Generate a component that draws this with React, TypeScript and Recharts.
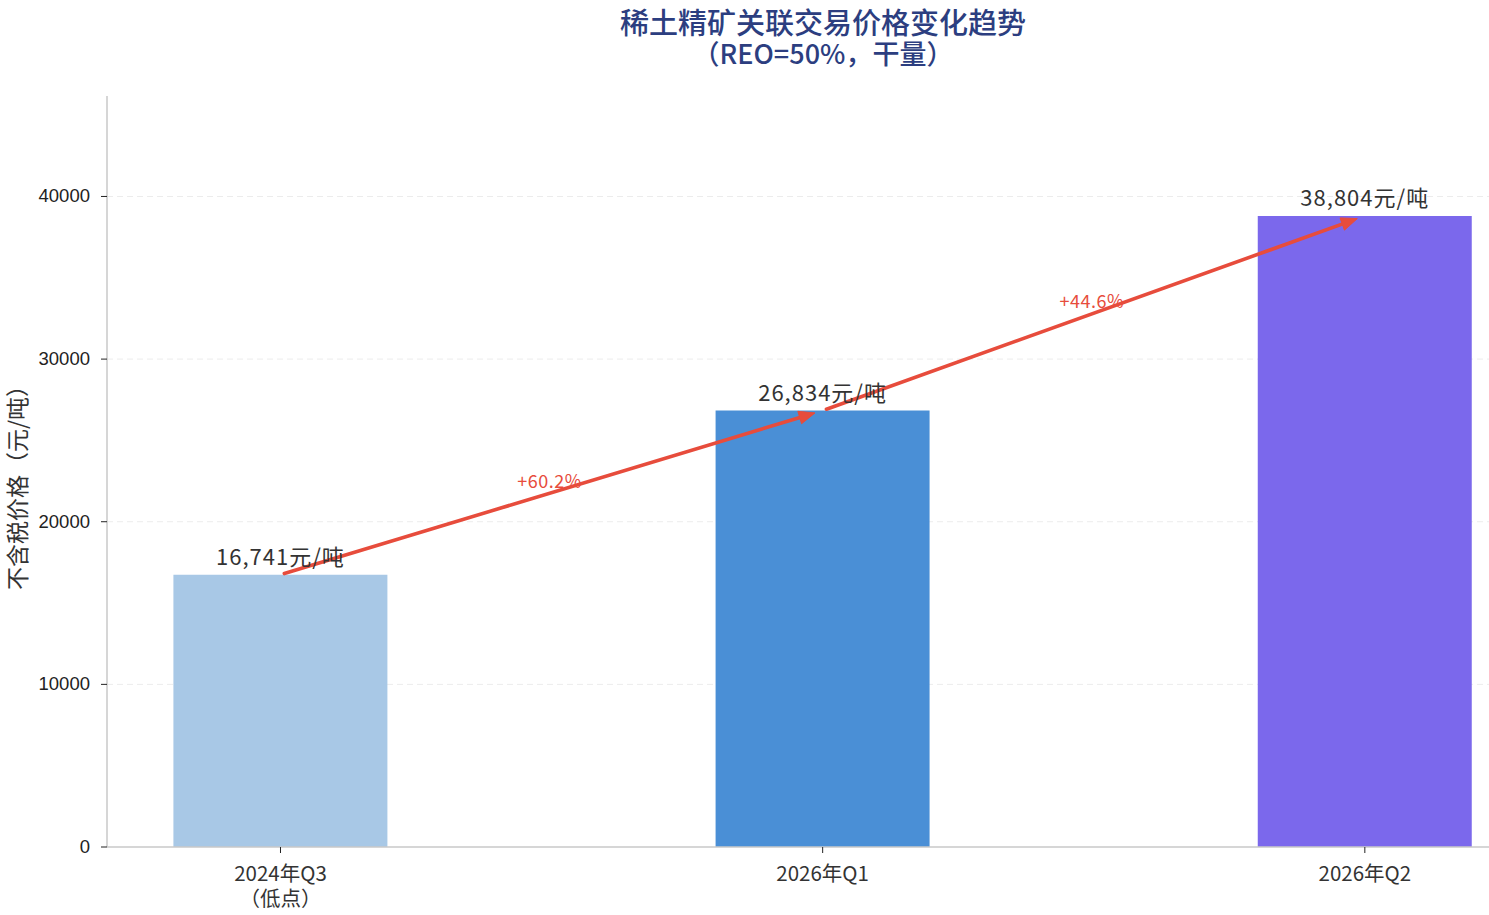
import React from "react";
import {
  ComposedChart,
  Bar,
  XAxis,
  YAxis,
  CartesianGrid,
  Cell,
  LabelList,
  ReferenceLine,
} from "recharts";

const categories = ["2024年Q3\n（低点）", "2026年Q1", "2026年Q2"];
const prices = [16741, 26834, 38804];
const valueLabels = ["16,741元/吨", "26,834元/吨", "38,804元/吨"];
const changeLabels = ["+60.2%", "+44.6%"];
const yTicks = [0, 10000, 20000, 30000, 40000];
const gridValues = [10000, 20000, 30000, 40000];

const barColors = ["#a8c8e6", "#4a8fd6", "#7b68ec"];
const ARROW = "#e74c3c";
const CJK = '"Noto Sans CJK SC", "Noto Sans", sans-serif';

const data = prices.map((v, i) => ({ x: i, value: v, label: valueLabels[i] }));

const XTick = (props: any) => {
  const { x, y, payload } = props;
  const lines = String(categories[payload.value] ?? "").split("\n");
  return (
    <g>
      {lines.map((ln, k) => (
        <text
          key={k}
          x={x}
          y={y + 26 + k * 25}
          textAnchor="middle"
          fontSize={20.5}
          fontFamily={CJK}
          fill="#333"
        >
          {ln}
        </text>
      ))}
    </g>
  );
};

const YTick = (props: any) => {
  const { x, y, payload } = props;
  return (
    <text
      x={x - 9}
      y={y}
      dy={6}
      textAnchor="end"
      fontSize={18.5}
      fontFamily='"Liberation Sans", Arial, sans-serif'
      fill="#222"
    >
      {payload.value}
    </text>
  );
};

const ValueLabel = (props: any) => {
  const { x, y, width, value } = props;
  return (
    <text
      x={x + width / 2}
      y={y - 10}
      textAnchor="middle"
      fontSize={22}
      letterSpacing={1}
      fontFamily={CJK}
      fill="#333"
    >
      {value}
    </text>
  );
};

const makeArrow = (label: string) => (props: any) => {
  const { x1, y1, x2, y2 } = props;
  if ([x1, y1, x2, y2].some((v) => v === undefined || isNaN(v))) return null;
  const dx = x2 - x1;
  const dy = y2 - y1;
  const len = Math.sqrt(dx * dx + dy * dy);
  const ux = dx / len;
  const uy = dy / len;
  const sx = x1 + ux * 4;
  const sy = y1 + uy * 4;
  const tx = x2 - ux * 8;
  const ty = y2 - uy * 8;
  const headL = 16;
  const headW = 6.5;
  const bx = tx - ux * headL;
  const by = ty - uy * headL;
  const px = -uy;
  const py = ux;
  const mx = (x1 + x2) / 2;
  const my = (y1 + y2) / 2;
  return (
    <g>
      <line x1={sx} y1={sy} x2={bx + ux * 2} y2={by + uy * 2} stroke={ARROW} strokeWidth={3.6} strokeLinecap="round" />
      <polygon
        points={`${tx},${ty} ${bx + px * headW},${by + py * headW} ${bx - px * headW},${by - py * headW}`}
        fill={ARROW}
        stroke={ARROW}
        strokeWidth={1}
        strokeLinejoin="round"
      />
      <text
        x={mx - 2}
        y={my - 5}
        textAnchor="middle"
        fontSize={18}
        letterSpacing={0.5}
        fontFamily={CJK}
        fill={ARROW}
      >
        {label}
      </text>
    </g>
  );
};

export default function App() {
  return (
    <div
      style={{
        position: "absolute",
        left: 0,
        top: 0,
        width: 1489,
        height: 915,
        background: "#fff",
        overflow: "hidden",
      }}
    >
      <div
        style={{
          position: "absolute",
          left: 0,
          top: 6,
          width: 1646,
          textAlign: "center",
          fontFamily: CJK,
          color: "#2c3e80",
          fontWeight: 500,
          fontSize: 29,
          lineHeight: "31px",
        }}
      >
        <div>稀土精矿关联交易价格变化趋势</div>
        <div style={{ fontSize: 27 }}>（REO=50%，干量）</div>
      </div>
      <div
        style={{
          position: "absolute",
          left: 16,
          top: 482,
          transform: "translate(-50%, -50%) rotate(-90deg)",
          whiteSpace: "nowrap",
          fontFamily: CJK,
          fontSize: 23,
          lineHeight: "26px",
          color: "#333",
        }}
      >
        不含税价格（元/吨）
      </div>
      <div style={{ position: "absolute", left: 0, top: 0 }}>
        <ComposedChart
          width={1489}
          height={915}
          data={data}
          margin={{ top: 96, right: 0, bottom: 0, left: 0 }}
        >
          <CartesianGrid
            horizontal={true}
            vertical={false}
            horizontalValues={gridValues}
            stroke="#ececec"
            strokeDasharray="6 4"
          />
          <XAxis
            dataKey="x"
            type="number"
            domain={[-0.32, 2.229]}
            ticks={[0, 1, 2]}
            allowDataOverflow={true}
            height={68}
            tick={<XTick />}
            tickSize={6}
            tickLine={{ stroke: "#222" }}
            axisLine={{ stroke: "#c8c8c8", strokeWidth: 1.5 }}
          />
          <YAxis
            type="number"
            domain={[0, 46177]}
            ticks={yTicks}
            allowDataOverflow={true}
            width={107}
            tickSize={6}
            tickLine={{ stroke: "#222" }}
            axisLine={{ stroke: "#c8c8c8", strokeWidth: 1.5 }}
            tick={<YTick />}
          />
          <Bar dataKey="value" barSize={214} isAnimationActive={false}>
            {data.map((d, i) => (
              <Cell key={i} fill={barColors[i]} />
            ))}
            <LabelList dataKey="label" content={<ValueLabel />} />
          </Bar>
          <ReferenceLine
            segment={[
              { x: 0, y: prices[0] },
              { x: 1, y: prices[1] },
            ]}
            shape={makeArrow(changeLabels[0])}
            ifOverflow="visible"
          />
          <ReferenceLine
            segment={[
              { x: 1, y: prices[1] },
              { x: 2, y: prices[2] },
            ]}
            shape={makeArrow(changeLabels[1])}
            ifOverflow="visible"
          />
        </ComposedChart>
      </div>
    </div>
  );
}
